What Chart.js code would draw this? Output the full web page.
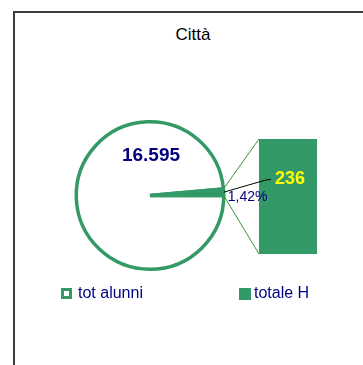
<!DOCTYPE html>
<html>
<head>
<meta charset="utf-8">
<script src="https://cdn.jsdelivr.net/npm/chart.js@4.4.1/dist/chart.umd.min.js"></script>
<style>
body{margin:0;background:#fff;font-family:"Liberation Sans",Arial,sans-serif}
#wrap{position:relative;width:363px;height:365px;overflow:hidden}
#frame{position:absolute;left:13px;top:11px;width:400px;height:400px;border-left:2px solid #3c3c3c;border-top:2px solid #3c3c3c}
#title{position:absolute;left:14px;width:358px;top:26px;line-height:17px;text-align:center;font-size:17px;color:#000}
#barCanvas{position:absolute;left:259px;top:139px}
#pieCanvas{position:absolute;left:0;top:0}
.leg{position:absolute;top:285px;font-size:16px;line-height:16px;color:#000080;white-space:nowrap}
.sw{position:absolute;box-sizing:border-box}
</style>
</head>
<body>
<div id="wrap">
  <div id="frame"></div>
  <div id="title">Città</div>
  <canvas id="barCanvas" width="58" height="115"></canvas>
  <canvas id="pieCanvas" width="363" height="365"></canvas>
  <div class="sw" style="left:61px;top:288px;width:11px;height:11px;border:3px solid #339966;background:#fff"></div>
  <div class="leg" style="left:78px">tot alunni</div>
  <div class="sw" style="left:239px;top:288px;width:12px;height:12px;background:#339966"></div>
  <div class="leg" style="left:254px">totale H</div>
</div>
<script>
// dati
const categories = ["tot alunni", "totale H"]
const values = [16595, 236]

const green = "#339966"
const navy = "#000080"

function formatIt(n){
  return String(n).replace(/\B(?=(\d{3})+(?!\d))/g, ".")
}

// colonna di dettaglio (totale H)
const barChart = new Chart(document.getElementById("barCanvas"), {
  type: "bar",
  data: {
    labels: [categories[1]],
    datasets: [{ data: [values[1]], backgroundColor: green, borderWidth: 0, barPercentage: 1, categoryPercentage: 1 }]
  },
  options: {
    responsive: false,
    animation: false,
    events: [],
    layout: { padding: 0 },
    scales: {
      x: { display: false },
      y: { display: false, min: 0, max: values[1] }
    },
    plugins: { legend: { display: false }, tooltip: { enabled: false } }
  }
})

// etichette, linee di collegamento verso la colonna
const overlay = {
  id: "overlay",
  afterDraw(chart){
    const ctx = chart.ctx
    const arc = chart.getDatasetMeta(0).data[1]
    const r = arc.outerRadius
    const bar = barChart.getDatasetMeta(0).data[0]
    const bx = 259, by = 139
    const barLeft = bx + bar.x - bar.width / 2
    const barTop = by + bar.y
    const barBottom = by + bar.base

    ctx.save()
    // collegamenti spicchio -> colonna
    ctx.strokeStyle = "#339933"
    ctx.lineWidth = 1
    ctx.beginPath()
    ctx.moveTo(arc.x + r * Math.cos(arc.startAngle), arc.y + r * Math.sin(arc.startAngle))
    ctx.lineTo(barLeft, barTop)
    ctx.moveTo(arc.x + r * Math.cos(arc.endAngle), arc.y + r * Math.sin(arc.endAngle))
    ctx.lineTo(barLeft, barBottom)
    ctx.stroke()

    // totale alunni
    ctx.fillStyle = navy
    ctx.font = "bold 19px 'Liberation Sans', Arial"
    ctx.textAlign = "center"
    ctx.textBaseline = "middle"
    ctx.fillText(formatIt(values[0]), arc.x + 1, arc.y - r * 0.54)

    // valore colonna
    const lx = bx + bar.x + 2
    const ly = barTop + (barBottom - barTop) * 0.35
    ctx.fillStyle = "#ffff00"
    ctx.font = "bold 18px 'Liberation Sans', Arial"
    ctx.fillText(formatIt(values[1]), lx, ly)
    const lw = ctx.measureText(formatIt(values[1])).width

    // linea guida
    const mid = (arc.startAngle + arc.endAngle) / 2
    ctx.strokeStyle = "#000"
    ctx.beginPath()
    ctx.moveTo(arc.x + r * Math.cos(mid), arc.y + r * Math.sin(mid))
    ctx.lineTo(lx - lw / 2 - 10, ly + 1)
    ctx.lineTo(lx - lw / 2 - 4, ly)
    ctx.stroke()

    // percentuale
    const pct = (values[1] / values[0] * 100).toFixed(2).replace(".", ",") + "%"
    ctx.fillStyle = navy
    ctx.font = "14px 'Liberation Sans', Arial"
    ctx.textAlign = "left"
    ctx.fillText(pct, arc.x + r + 4, arc.y + 2)
    ctx.restore()
  }
}

const pieChart = new Chart(document.getElementById("pieCanvas"), {
  type: "pie",
  data: {
    labels: categories,
    datasets: [{
      data: [values[0] - values[1], values[1]],
      backgroundColor: ["#ffffff", green],
      borderColor: [green, green],
      borderWidth: 3.5
    }]
  },
  options: {
    responsive: false,
    animation: false,
    events: [],
    rotation: 90,
    layout: { padding: { left: 74, right: 137, top: 120, bottom: 94 } },
    plugins: { legend: { display: false }, tooltip: { enabled: false }, title: { display: false } }
  },
  plugins: [overlay]
})
</script>
</body>
</html>
